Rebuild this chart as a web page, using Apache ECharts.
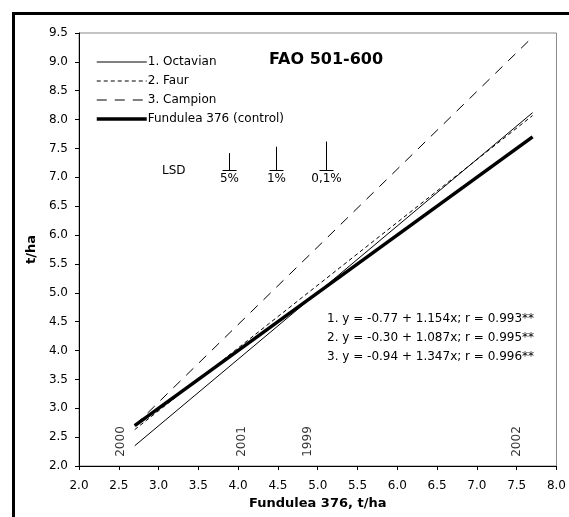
<!DOCTYPE html>
<html style="height: 100%">
<head>
<meta charset="UTF-8">
<title>FAO 501-600</title>
<script type="text/javascript" src="https://cdn.jsdelivr.net/npm/echarts@6/dist/echarts.min.js"></script>
</head>
<body style="height: 100%; margin: 0; background: #fff">
<div id="container" style="width: 569px; height: 517px"></div>
<script type="text/javascript">
// regression lines, end points (x = Fundulea 376 yield)
var octavian = [[2.7, 2.35], [7.7, 8.12]];
var faur = [[2.7, 2.63], [7.7, 8.07]];
var campion = [[2.7, 2.70], [7.7, 9.43]];
var control = [[2.7, 2.70], [7.7, 7.70]];

// year markers along the bottom
var years = ['2000', '2001', '1999', '2002'];
var yearX = [2.53, 4.05, 4.87, 7.50];
var yearY = 2.16;

// LSD bars
var lsdLabels = ['5%', '1%', '0,1%'];
var lsdX = [3.88, 4.47, 5.10];
var lsdLen = [0.29, 0.40, 0.49];
var lsdBase = 7.13;

var equations = [
	'1. y = -0.77 + 1.154x; r = 0.993**',
	'2. y = -0.30 + 1.087x; r = 0.995**',
	'3. y = -0.94 + 1.347x; r = 0.996**'
];

var xTicks = { min: 2, max: 8, step: 0.5 };
var yTicks = { min: 2, max: 9.5, step: 0.5 };

var FONT = 'DejaVu Sans';

var yearData = [];
for (var i = 0; i < years.length; i++) {
	yearData.push([yearX[i], yearY, years[i]]);
}
var lsdData = [];
for (var i = 0; i < lsdX.length; i++) {
	lsdData.push([lsdX[i], lsdBase, lsdLen[i]]);
}

var myChart = echarts.init(document.getElementById('container'));
var option = {
	backgroundColor: '#fff',
	animation: false,
	textStyle: { fontFamily: FONT },
	title: {
		text: 'FAO 501-600',
		left: 264,
		top: 47,
		textStyle: { fontFamily: FONT, fontSize: 16, fontWeight: 'bold', color: '#000' }
	},
	legend: {
		data: ['1. Octavian', '2. Faur', '3. Campion', 'Fundulea 376 (control)'],
		orient: 'vertical',
		left: 90,
		top: 51,
		itemWidth: 50,
		itemHeight: 14,
		itemGap: 7,
		itemStyle: { opacity: 0 },
		lineStyle: { width: 'inherit' },
		textStyle: { fontFamily: FONT, fontSize: 12, color: '#000', padding: [0, 0, 0, -4] }
	},
	grid: {
		left: 79,
		right: 12,
		top: 33,
		bottom: 51,
		show: true,
		borderColor: '#888',
		borderWidth: 1
	},
	xAxis: {
		type: 'value',
		min: xTicks.min,
		max: xTicks.max,
		interval: xTicks.step,
		name: 'Fundulea 376, t/ha',
		nameLocation: 'middle',
		nameGap: 28,
		nameTextStyle: { fontFamily: FONT, fontSize: 13, fontWeight: 'bold', color: '#000' },
		axisLine: { lineStyle: { color: '#000', width: 1 } },
		axisTick: { length: 4, lineStyle: { color: '#000' } },
		axisLabel: {
			color: '#000', fontSize: 12, fontFamily: FONT, margin: 14,
			formatter: function (v) { return v.toFixed(1); }
		},
		splitLine: { show: false }
	},
	yAxis: {
		type: 'value',
		min: yTicks.min,
		max: yTicks.max,
		interval: yTicks.step,
		name: 't/ha',
		nameLocation: 'middle',
		nameGap: 36,
		nameTextStyle: { fontFamily: FONT, fontSize: 13, fontWeight: 'bold', color: '#000' },
		axisLine: { lineStyle: { color: '#000', width: 1 } },
		axisTick: { length: 4, lineStyle: { color: '#000' } },
		axisLabel: {
			color: '#000', fontSize: 12, fontFamily: FONT, margin: 11,
			formatter: function (v) { return v.toFixed(1); }
		},
		splitLine: { show: false }
	},
	graphic: [
		{
			type: 'rect',
			shape: { x: 13.5, y: 13.5, width: 700, height: 700 },
			style: { fill: 'none', stroke: '#000', lineWidth: 3 },
			silent: true
		},
		{
			type: 'text',
			left: 162,
			top: 165,
			style: { text: 'LSD', font: '12px ' + FONT, fill: '#000' }
		},
		{
			type: 'text',
			left: 327,
			top: 309,
			style: { text: equations.join('\n'), font: '12px ' + FONT, lineHeight: 19, fill: '#000' }
		}
	],
	series: [
		{
			name: '1. Octavian', type: 'line', data: octavian, symbol: 'none',
			lineStyle: { color: '#000', width: 1, type: 'solid' }, itemStyle: { color: '#000' }
		},
		{
			name: '2. Faur', type: 'line', data: faur, symbol: 'none',
			lineStyle: { color: '#000', width: 1, type: [4, 3] }, itemStyle: { color: '#000' }
		},
		{
			name: '3. Campion', type: 'line', data: campion, symbol: 'none',
			lineStyle: { color: '#000', width: 1, type: [10, 8] }, itemStyle: { color: '#000' }
		},
		{
			name: 'Fundulea 376 (control)', type: 'line', data: control, symbol: 'none',
			lineStyle: { color: '#000', width: 3.5 }, itemStyle: { color: '#000' }
		},
		{
			name: 'years', type: 'scatter', data: yearData, symbolSize: 1,
			itemStyle: { color: 'rgba(0,0,0,0)' },
			label: {
				show: true, position: 'inside', rotate: 90, align: 'left', verticalAlign: 'middle',
				color: '#000', fontSize: 12, fontFamily: FONT,
				formatter: function (p) { return p.data[2]; }
			}
		},
		{
			name: 'LSD', type: 'custom', data: lsdData,
			renderItem: function (params, api) {
				var base = api.coord([api.value(0), api.value(1)]);
				var top = api.coord([api.value(0), api.value(1) + api.value(2)]);
				var bx = Math.round(base[0]) + 0.5;
				var by = Math.round(base[1]) + 0.5;
				return {
					type: 'group',
					children: [
						{ type: 'line', shape: { x1: bx, y1: by, x2: bx, y2: top[1] }, style: { stroke: '#000', lineWidth: 1 } },
						{ type: 'line', shape: { x1: bx - 7, y1: by, x2: bx + 7, y2: by }, style: { stroke: '#000', lineWidth: 1 } },
						{ type: 'text', x: bx, y: by + 2, style: { text: lsdLabels[params.dataIndex], font: '12px ' + FONT, fill: '#000', align: 'center', verticalAlign: 'top' } }
					]
				};
			}
		}
	]
};
myChart.setOption(option, true);
</script>
</body>
</html>
